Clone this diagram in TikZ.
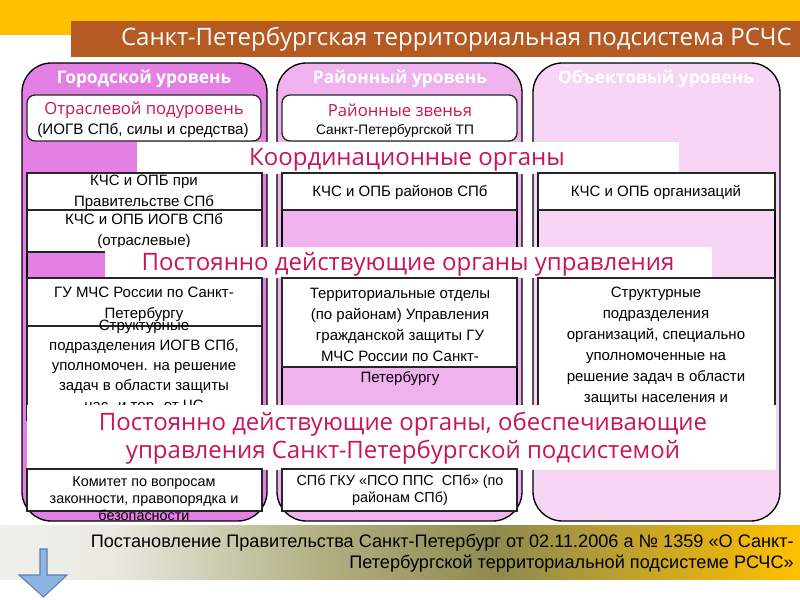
\documentclass[tikz,border=0pt]{standalone}
\usepackage{fontspec}
\setmainfont{Liberation Sans}
\newfontfamily\comicfont{Open Sans}
\definecolor{zoloto}{HTML}{FFC000}
\definecolor{korich}{HTML}{B45A22}
\definecolor{gorod}{HTML}{E47FE3}
\definecolor{rayon}{HTML}{EFB2EE}
\definecolor{obekt}{HTML}{F6D5F5}
\definecolor{malina}{HTML}{C8145C}
\definecolor{svetlo}{HTML}{F0F0EC}
\definecolor{seroliva}{HTML}{B2B082}
\definecolor{oliva}{HTML}{8E8A50}
\definecolor{strelka}{HTML}{8DB4E2}
\definecolor{strelkakr}{HTML}{5D80A8}
\pgfdeclarehorizontalshading{postshade}{100bp}{color(0bp)=(svetlo); color(25bp)=(svetlo); color(32bp)=(svetlo!90!seroliva); color(45bp)=(seroliva); color(56bp)=(oliva); color(75bp)=(zoloto); color(100bp)=(zoloto)}
\tikzset{
  kolonka/.style={draw=black, line width=1pt, rounded corners=22pt},
  korobka/.style={draw=black!85, fill=white, line width=1pt},
  tekst/.style={inner sep=0pt, align=center, font=\fontsize{11.25}{15.75}\selectfont},
  melko/.style={inner sep=0pt, align=center, font=\fontsize{10.8}{12.75}\selectfont},
  uroven/.style={inner sep=0pt, text=white, font=\comicfont\bfseries\fontsize{13}{15}\selectfont},
  zagolovok/.style={inner sep=0pt, align=center, text=malina, font=\comicfont\fontsize{18}{21}\selectfont}
}
\begin{document}
\begin{tikzpicture}[x=0.75pt,y=-0.75pt]
        \useasboundingbox (0,0) rectangle (800,600);

        % Шапка
        \fill[zoloto] (0,0) rectangle (800,35);
        \fill[korich] (71,21) rectangle (800,57);
        \node[anchor=east, inner sep=0pt, text=white, font=\comicfont\fontsize{18}{20}\selectfont] (titul) at (792,39) {Санкт-Петербургская территориальная подсистема РСЧС};

        % Уровни
        \draw[kolonka, fill=gorod] (22,63) rectangle (267,521);
        \draw[kolonka, fill=rayon] (277,63) rectangle (522,521);
        \draw[kolonka, fill=obekt] (533,63) rectangle (780,521);
        \foreach \x in {27,262,282,517,538,775}
            \draw[line width=1pt] (\x,173) -- (\x,405);
        \node[uroven] (gorodur) at (144,79) {Городской уровень};
        \node[uroven] (rayonur) at (400,79) {Районный уровень};
        \node[uroven] (obektur) at (656,79) {Объектовый уровень};

        % Подуровни
        \draw[korobka, rounded corners=6pt] (27,95) rectangle (261,141);
        \node[inner sep=0pt, text=malina, font=\comicfont\fontsize{12.5}{14}\selectfont] (otrasl) at (144,110) {Отраслевой подуровень};
        \node[inner sep=0pt, font=\fontsize{11.4}{13}\selectfont] (iogv) at (143,131) {(ИОГВ СПб, силы и средства)};
        \draw[korobka, rounded corners=6pt] (282,95) rectangle (517,141);
        \node[inner sep=0pt, text=malina, font=\comicfont\fontsize{12.5}{14}\selectfont] (zvenya) at (400,110) {Районные звенья};
        \node[inner sep=0pt, font=\fontsize{10.3}{12}\selectfont] (tp) at (395,131) {Санкт-Петербургской ТП};

        % Координационные органы
        \fill[white] (137,142) rectangle (679,174);
        \node[zagolovok] (koord) at (407,160) {Координационные органы};
        \draw[korobka] (27,173) rectangle (262,210);
        \node[tekst] (kchs1) at (144,192) {КЧС и ОПБ при\\Правительстве СПб};
        \draw[korobka] (27,210) rectangle (262,252);
        \node[tekst] (kchs2) at (144,231) {КЧС и ОПБ ИОГВ СПб\\(отраслевые)};
        \draw[korobka] (282,173) rectangle (517,210);
        \node[tekst] (kchs3) at (400,192) {КЧС и ОПБ районов СПб};
        \draw[korobka] (538,173) rectangle (775,210);
        \node[tekst] (kchs4) at (656,192) {КЧС и ОПБ организаций};

        % Органы управления
        \fill[white] (105,247) rectangle (712,278);
        \node[zagolovok] (upr) at (408,264) {Постоянно действующие органы управления};
        \draw[korobka] (27,278) rectangle (262,326);
        \node[tekst] (gu) at (144,304) {ГУ МЧС России по Санкт-\\Петербургу};
        \draw[korobka] (27,326) rectangle (262,420);
        \node[tekst, font=\fontsize{11.25}{15}\selectfont] (strukt1) at (144,367) {Структурные\\подразделения ИОГВ СПб,\\уполномочен. на решение\\задач в области защиты\\нас. и тер. от ЧС};
        \draw[korobka] (282,278) rectangle (517,367);
        \node[tekst] (terr) at (400,337) {Территориальные отделы\\(по районам) Управления\\гражданской защиты ГУ\\МЧС России по Санкт-\\Петербургу};
        \draw[korobka] (538,278) rectangle (775,420);
        \node[tekst] (strukt2) at (656,346) {Структурные\\подразделения\\организаций, специально\\уполномоченные на\\решение задач в области\\защиты населения и};

        % Обеспечивающие органы
        \fill[white] (27,405) rectangle (776,470);
        \node[zagolovok] (obesp) at (403,438) {Постоянно действующие органы, обеспечивающие\\управления Санкт-Петербургской подсистемой};
        \draw[korobka] (27,469) rectangle (262,511);
        \node[melko] (komitet) at (144,499) {Комитет по вопросам\\законности, правопорядка и\\безопасности};
        \draw[korobka] (282,469) rectangle (517,511);
        \node[melko] (pso) at (400,490) {СПб ГКУ «ПСО ППС~ СПб» (по\\районам СПб)};

        % Постановление
        \shade[shading=postshade] (0,525) rectangle (800,579);
        \node[anchor=east, inner sep=0pt, align=right, font=\fontsize{13.6}{15.75}\selectfont] (postan) at (794,553) {Постановление Правительства Санкт-Петербург от 02.11.2006 а № 1359 «О Санкт-\\Петербургской территориальной подсистеме РСЧС»};

        % Стрелка
        \draw[strelkakr, fill=strelka, line width=0.8pt] (40,549) -- (47,549) -- (47,575) -- (67,575) -- (43.5,597) -- (19,575) -- (40,575) -- cycle;
    \end{tikzpicture}
\end{document}
